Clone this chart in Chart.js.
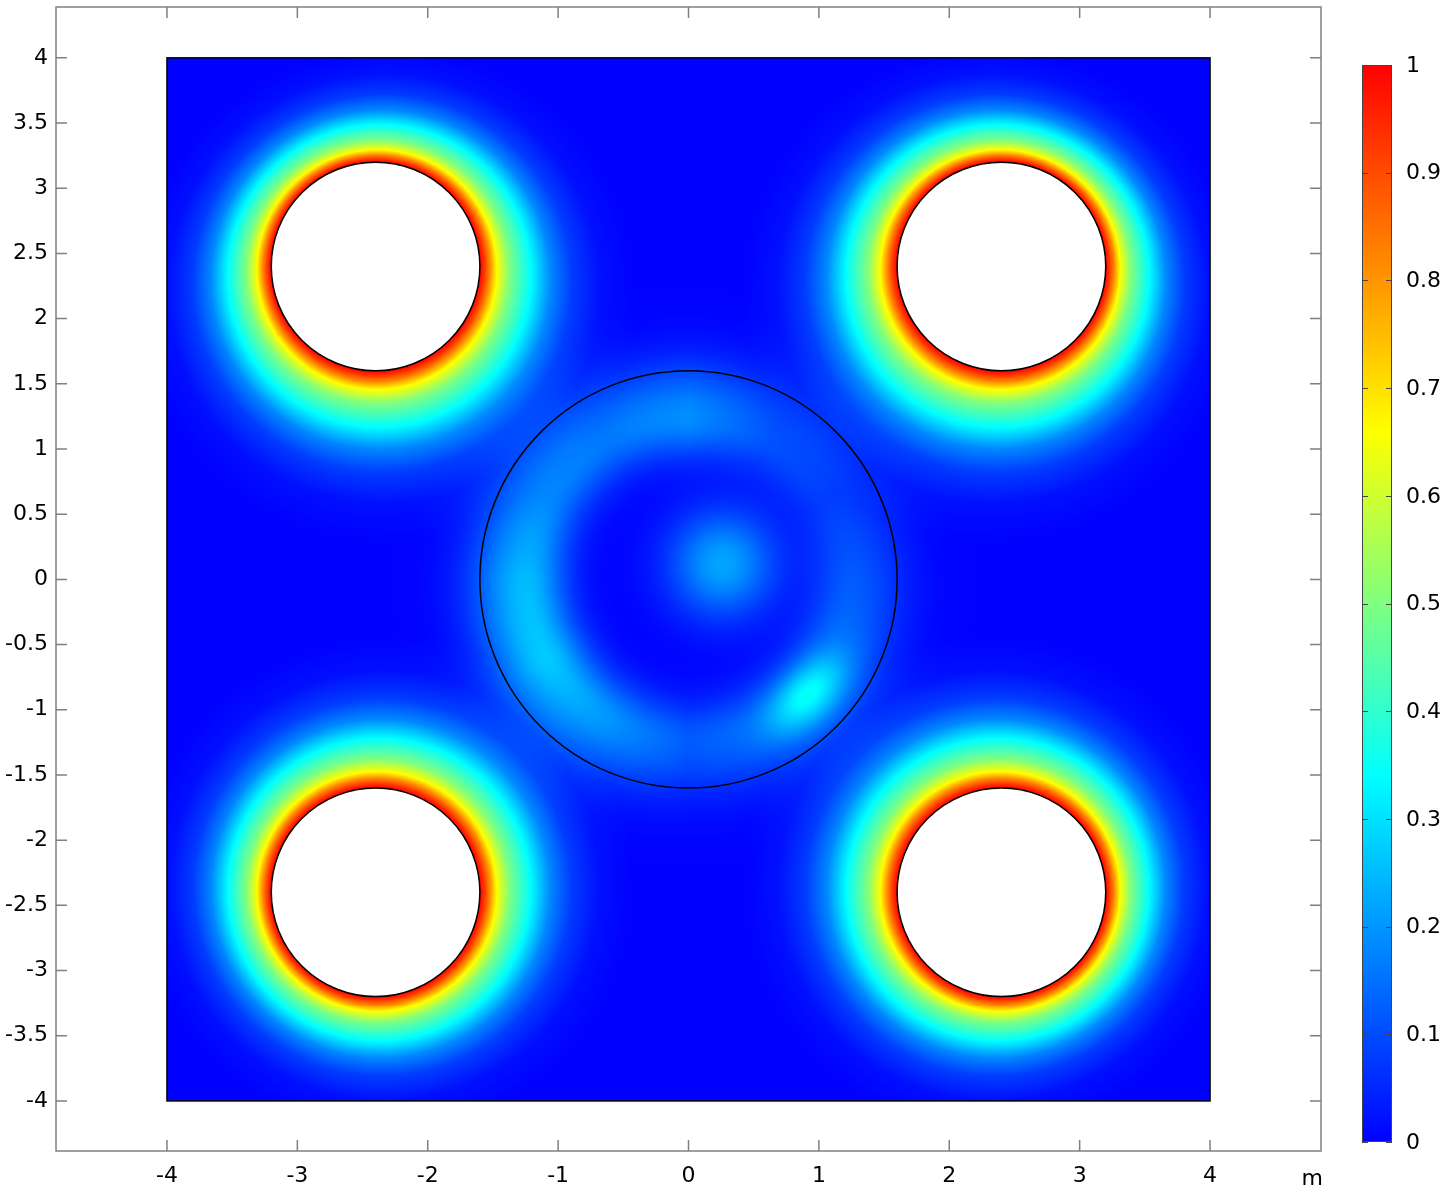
<!DOCTYPE html>
<html>
<head>
<meta charset="utf-8">
<script src="https://cdn.jsdelivr.net/npm/chart.js@4.4.1/dist/chart.umd.min.js"></script>
<style>
  html, body { margin: 0; padding: 0; background: #fff; }
  canvas { display: block; }
</style>
</head>
<body>
<canvas id="field-chart" width="1452" height="1193"></canvas>
<script>
// axes (m)
const xTicks = [-4, -3, -2, -1, 0, 1, 2, 3, 4];
const yTicks = [-4, -3.5, -3, -2.5, -2, -1.5, -1, -0.5, 0, 0.5, 1, 1.5, 2, 2.5, 3, 3.5, 4];
const xRange = [-4.851, 4.851];
const yRange = [-4.384, 4.39];

// geometry
const domain = [-4, 4];
const holeX = [-2.4, 2.4, -2.4, 2.4];
const holeY = [2.4, 2.4, -2.4, -2.4];
const holeR = 0.8;
const innerR = 1.6;

// value around each hole, by distance from the hole edge (m)
const haloDist = [0, 0.03, 0.07, 0.12, 0.21, 0.36, 0.5, 0.65, 0.85, 1.1];
const haloVal = [1, 0.93, 0.82, 0.66, 0.5, 0.34, 0.18, 0.08, 0.02, 0];
// halos reach further on one side (per hole, as a direction)
const haloBiasX = [0.08, -0.08, 0.08, -0.08];
const haloBiasY = [-0.2, -0.2, 0.06, 0.06];

// bright ring inside the centre circle, by angle (deg)
const ringAngle = [0, 30, 60, 90, 120, 150, 180, 210, 240, 270, 300, 330];
const ringVal = [0.12, 0.08, 0.11, 0.19, 0.16, 0.18, 0.25, 0.27, 0.2, 0.12, 0.15, 0.15];
const ringR = 1.24;
const ringWin = 0.22;
const ringWout = 0.3;

// local spots inside the circle
const spotX = [0.26, 0.92];
const spotY = [0.12, -0.89];
const spotVal = [0.22, 0.2];
const spotW1 = [0.29, 0.25];
const spotW2 = [0.29, 0.15];
const spotAng = [0, 45];

const baseVal = 0;

// colour table
const cbarTicks = [0, 0.1, 0.2, 0.3, 0.4, 0.5, 0.6, 0.7, 0.8, 0.9, 1];
const cmapPos = [0, 0.34, 0.66, 1];
const cmapRGB = [[0, 0, 255], [0, 255, 255], [255, 255, 0], [255, 0, 0]];

const FONT = '"DejaVu Sans", sans-serif';

function lerpTable(xs, ys, v) {
  if (v <= xs[0]) return ys[0];
  for (let i = 1; i < xs.length; i++) {
    if (v <= xs[i]) {
      const t = (v - xs[i - 1]) / (xs[i] - xs[i - 1]);
      return ys[i - 1] + t * (ys[i] - ys[i - 1]);
    }
  }
  return ys[ys.length - 1];
}

function ringAmp(deg) {
  const n = ringAngle.length;
  for (let i = 0; i < n; i++) {
    const a0 = ringAngle[i];
    const a1 = i + 1 < n ? ringAngle[i + 1] : 360;
    if (deg >= a0 && deg <= a1) {
      const t = (deg - a0) / (a1 - a0);
      return ringVal[i] + t * (ringVal[(i + 1) % n] - ringVal[i]);
    }
  }
  return ringVal[0];
}

function fieldAt(x, y) {
  let v = baseVal;
  for (let i = 0; i < holeX.length; i++) {
    const dx = x - holeX[i], dy = y - holeY[i];
    const r = Math.hypot(dx, dy);
    if (r < holeR) return null;
    const lean = (dx * haloBiasX[i] + dy * haloBiasY[i]) / r;
    v += lerpTable(haloDist, haloVal, (r - holeR) / (1 + lean));
  }
  const rr = Math.hypot(x, y);
  let ang = Math.atan2(y, x) * 180 / Math.PI;
  if (ang < 0) ang += 360;
  const rw = rr < ringR ? ringWin : ringWout;
  v += ringAmp(ang) * Math.exp(-((rr - ringR) ** 2) / (2 * rw * rw));
  for (let i = 0; i < spotX.length; i++) {
    const a = spotAng[i] * Math.PI / 180;
    const dx = x - spotX[i], dy = y - spotY[i];
    const u = dx * Math.cos(a) + dy * Math.sin(a);
    const w = -dx * Math.sin(a) + dy * Math.cos(a);
    v += spotVal[i] * Math.exp(-(u * u) / (2 * spotW1[i] ** 2) - (w * w) / (2 * spotW2[i] ** 2));
  }
  return Math.min(1, Math.max(0, v));
}

function colorOf(v) {
  for (let i = 1; i < cmapPos.length; i++) {
    if (v <= cmapPos[i]) {
      const t = (v - cmapPos[i - 1]) / (cmapPos[i] - cmapPos[i - 1]);
      const a = cmapRGB[i - 1], b = cmapRGB[i];
      return [a[0] + t * (b[0] - a[0]), a[1] + t * (b[1] - a[1]), a[2] + t * (b[2] - a[2])];
    }
  }
  return cmapRGB[cmapRGB.length - 1];
}

let fieldImage = null;

const surfacePlugin = {
  id: 'surface',
  beforeDatasetsDraw(chart) {
    const { ctx, chartArea: ca, scales: { x, y } } = chart;
    if (!fieldImage) {
      const w = Math.round(ca.right - ca.left), h = Math.round(ca.bottom - ca.top);
      const off = document.createElement('canvas');
      off.width = w; off.height = h;
      const octx = off.getContext('2d');
      const img = octx.createImageData(w, h);
      for (let j = 0; j < h; j++) {
        const yv = y.getValueForPixel(ca.top + j + 0.5);
        if (yv < domain[0] || yv > domain[1]) continue;
        for (let i = 0; i < w; i++) {
          const xv = x.getValueForPixel(ca.left + i + 0.5);
          if (xv < domain[0] || xv > domain[1]) continue;
          const v = fieldAt(xv, yv);
          if (v === null) continue;
          const c = colorOf(v);
          const k = (j * w + i) * 4;
          img.data[k] = c[0]; img.data[k + 1] = c[1]; img.data[k + 2] = c[2]; img.data[k + 3] = 255;
        }
      }
      octx.putImageData(img, 0, 0);
      fieldImage = off;
    }
    ctx.save();
    ctx.drawImage(fieldImage, ca.left, ca.top);
    const x0 = x.getPixelForValue(domain[0]), x1 = x.getPixelForValue(domain[1]);
    const y0 = y.getPixelForValue(domain[1]), y1 = y.getPixelForValue(domain[0]);
    ctx.strokeStyle = '#000';
    ctx.lineWidth = 1.5;
    ctx.strokeRect(x0, y0, x1 - x0, y1 - y0);
    ctx.restore();
  },
  afterDraw(chart) {
    const { ctx, chartArea: ca, scales: { x, y } } = chart;
    ctx.save();
    // frame with inward ticks
    ctx.strokeStyle = '#808080';
    ctx.lineWidth = 1.5;
    ctx.strokeRect(ca.left, ca.top, ca.right - ca.left, ca.bottom - ca.top);
    ctx.beginPath();
    xTicks.forEach(t => {
      const p = x.getPixelForValue(t);
      ctx.moveTo(p, ca.bottom); ctx.lineTo(p, ca.bottom - 11);
      ctx.moveTo(p, ca.top); ctx.lineTo(p, ca.top + 11);
    });
    yTicks.forEach(t => {
      const p = y.getPixelForValue(t);
      ctx.moveTo(ca.left, p); ctx.lineTo(ca.left + 11, p);
      ctx.moveTo(ca.right, p); ctx.lineTo(ca.right - 11, p);
    });
    ctx.stroke();

    // unit label
    ctx.fillStyle = '#000';
    ctx.font = '22px ' + FONT;
    ctx.textAlign = 'right';
    ctx.textBaseline = 'alphabetic';
    ctx.fillText('m', 1323, 1185);

    // colour bar
    const bx = 1362, bw = 30, by0 = 65, by1 = 1142;
    const grad = ctx.createLinearGradient(0, by1, 0, by0);
    cmapPos.forEach((p, i) => grad.addColorStop(p, `rgb(${cmapRGB[i].join(',')})`));
    ctx.fillStyle = grad;
    ctx.fillRect(bx, by0, bw, by1 - by0);
    ctx.strokeStyle = '#444';
    ctx.lineWidth = 1;
    ctx.strokeRect(bx + 0.5, by0 + 0.5, bw - 1, by1 - by0 - 1);
    ctx.beginPath();
    cbarTicks.forEach(t => {
      const p = Math.round(by1 - t * (by1 - by0)) + 0.5;
      ctx.moveTo(bx, p); ctx.lineTo(bx + 6, p);
      ctx.moveTo(bx + bw, p); ctx.lineTo(bx + bw - 6, p);
    });
    ctx.stroke();
    ctx.fillStyle = '#000';
    ctx.textAlign = 'left';
    ctx.textBaseline = 'middle';
    cbarTicks.forEach(t => {
      const p = by1 - t * (by1 - by0);
      ctx.fillText(String(t), 1406, p + 1);
    });
    ctx.restore();
  }
};

const radiusPx = r => ctx => {
  const s = ctx.chart.scales.x;
  return s.getPixelForValue(r) - s.getPixelForValue(0);
};

new Chart(document.getElementById('field-chart'), {
  type: 'scatter',
  data: {
    datasets: [
      {
        label: 'holes',
        data: holeX.map((hx, i) => ({ x: hx, y: holeY[i] })),
        pointRadius: radiusPx(holeR),
        pointBackgroundColor: '#fff',
        pointBorderColor: '#000',
        pointBorderWidth: 1.5
      },
      {
        label: 'inner',
        data: [{ x: 0, y: 0 }],
        pointRadius: radiusPx(innerR),
        pointBackgroundColor: 'rgba(0,0,0,0)',
        pointBorderColor: '#000',
        pointBorderWidth: 1.5
      }
    ]
  },
  options: {
    responsive: false,
    animation: false,
    devicePixelRatio: 1,
    events: [],
    layout: { padding: { top: 7, right: 131, left: 0, bottom: 0 } },
    plugins: { legend: { display: false }, tooltip: { enabled: false } },
    scales: {
      x: {
        type: 'linear',
        min: xRange[0],
        max: xRange[1],
        afterBuildTicks: s => { s.ticks = xTicks.map(v => ({ value: v })); },
        afterFit: s => { s.height = 42; s.paddingLeft = 0; s.paddingRight = 0; },
        grid: { display: false, drawTicks: false },
        border: { display: false },
        ticks: { color: '#000', font: { family: FONT, size: 22 }, padding: 12, maxRotation: 0, callback: v => String(v) }
      },
      y: {
        type: 'linear',
        min: yRange[0],
        max: yRange[1],
        afterBuildTicks: s => { s.ticks = yTicks.map(v => ({ value: v })); },
        afterFit: s => { s.width = 56; s.paddingTop = 0; s.paddingBottom = 0; },
        grid: { display: false, drawTicks: false },
        border: { display: false },
        ticks: { color: '#000', font: { family: FONT, size: 22 }, padding: 8, callback: v => String(v) }
      }
    }
  },
  plugins: [surfacePlugin]
});
</script>
</body>
</html>
